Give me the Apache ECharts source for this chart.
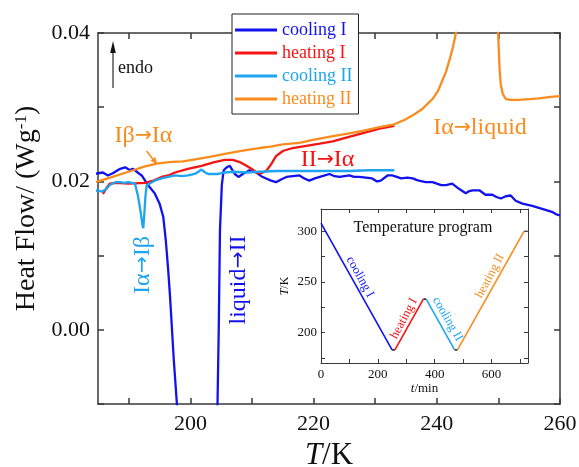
<!DOCTYPE html>
<html><head><meta charset="utf-8">
<script src="https://cdn.jsdelivr.net/npm/echarts@6/dist/echarts.min.js"></script>
<style>html,body{margin:0;padding:0;background:#fff}#c{width:579px;height:467px}</style>
</head><body><div id="c"></div>
<script>
// ---- main DSC curves: [T/K, heat flow W/g] ----
const coolingI = [[184.5,0.0210],[185.0,0.0211],[185.8,0.0212],[186.6,0.0208],[187.4,0.0211],[188.0,0.0214],[188.6,0.0217],[189.4,0.0219],[190.2,0.0215],[190.6,0.0217],[191.0,0.0215],[191.6,0.0211],[192.1,0.0208],[192.8,0.0199],[193.4,0.0192],[194.2,0.0184],[195.0,0.0170],[195.6,0.0152],[196.0,0.0121],[196.4,0.0080],[196.7,0.0044],[197.3,-0.0040],[197.8,-0.0099],[198.3,-0.016],[201.0,-0.05],[204.1,-0.025],[204.4,-0.010],[204.6,0.0],[204.8,0.0134],[205.1,0.0195],[205.4,0.0215],[205.9,0.0219],[206.4,0.0221],[207.2,0.0210],[207.8,0.0206],[208.5,0.0210],[209.6,0.0215],[210.7,0.0212],[211.5,0.0207],[212.3,0.0204],[213.1,0.0201],[213.9,0.0199],[214.8,0.0203],[215.6,0.0206],[216.6,0.0207],[217.7,0.0208],[218.5,0.0204],[219.3,0.0201],[220.2,0.0204],[221.0,0.0206],[221.8,0.0208],[222.6,0.0210],[223.4,0.0207],[224.2,0.0206],[225.0,0.0207],[225.8,0.0208],[226.6,0.0206],[227.4,0.0206],[228.5,0.0205],[229.5,0.0204],[230.3,0.0200],[230.9,0.0201],[232.0,0.0208],[232.8,0.0208],[233.5,0.0206],[234.2,0.0204],[235.2,0.0205],[236.1,0.0204],[236.7,0.0202],[237.1,0.0201],[238.2,0.0199],[239.3,0.0199],[240.0,0.0197],[240.7,0.0195],[241.5,0.0195],[242.5,0.0197],[243.6,0.0190],[244.7,0.0184],[245.3,0.0187],[245.8,0.0188],[246.9,0.0188],[247.9,0.0182],[249.0,0.0182],[249.7,0.0179],[250.4,0.0177],[251.2,0.0180],[252.0,0.0181],[252.8,0.0174],[253.9,0.0170],[255.5,0.0167],[257.1,0.0163],[258.7,0.0159],[259.3,0.0156],[260.0,0.0154]];
const heatingI = [[185.8,0.0183],[186.3,0.0190],[186.9,0.0197],[188.0,0.0198],[190.0,0.0197],[192.6,0.0198],[194.0,0.0201],[195.3,0.0206],[196.4,0.0208],[197.5,0.0212],[199.6,0.0217],[201.8,0.0221],[203.9,0.0226],[205.6,0.0229],[206.9,0.0229],[208.0,0.0226],[209.1,0.0221],[209.9,0.0217],[210.7,0.0212],[211.5,0.0211],[212.3,0.0214],[213.1,0.0223],[213.9,0.0234],[215.0,0.0241],[216.6,0.0245],[218.8,0.0248],[221.0,0.0251],[223.1,0.0254],[225.3,0.0259],[228.0,0.0265],[230.7,0.0271],[233.1,0.0275]];
const coolingII = [[184.5,0.0187],[185.0,0.0188],[185.6,0.0186],[186.4,0.0190],[186.9,0.0195],[187.8,0.0199],[188.6,0.0199],[189.3,0.0198],[189.9,0.0199],[190.5,0.0198],[191.0,0.0197],[191.5,0.0180],[191.9,0.0160],[192.2,0.0142],[192.35,0.0137],[192.55,0.0160],[192.7,0.0180],[192.9,0.0195],[193.4,0.0197],[194.2,0.0201],[195.3,0.0204],[196.4,0.0206],[197.5,0.0208],[198.6,0.0207],[199.6,0.0208],[200.7,0.0210],[201.3,0.0213],[201.8,0.0216],[202.4,0.0212],[202.9,0.0210],[204.5,0.0210],[205.6,0.0212],[207.0,0.0213],[209.0,0.0212],[211.2,0.0213],[214.0,0.0214],[217.7,0.0214],[221.0,0.0214],[225.8,0.0214],[229.0,0.0215],[233.1,0.0215]];
const heatingII = [[184.5,0.0199],[185.0,0.0200],[187.0,0.0205],[190.7,0.0215],[192.5,0.0220],[194.5,0.0224],[196.5,0.0226],[198.8,0.0227],[201.0,0.0230],[203.1,0.0233],[205.0,0.0236],[206.9,0.0239],[209.0,0.0242],[211.2,0.0245],[213.0,0.0247],[215.0,0.0250],[217.7,0.0252],[219.9,0.0256],[222.5,0.0260],[225.3,0.0264],[228.0,0.0268],[230.7,0.0273],[233.1,0.0277],[234.8,0.0283],[236.1,0.0289],[237.7,0.0298],[239.3,0.0311],[240.2,0.0322],[240.9,0.0336],[241.5,0.0348],[242.0,0.0362],[242.6,0.0380],[243.1,0.0400],[243.6,0.0425],[244.5,0.050],[246.0,0.070],[248.0,0.070],[249.6,0.050],[249.85,0.0420],[249.95,0.0400],[250.1,0.0370],[250.2,0.0350],[250.4,0.0330],[250.7,0.0318],[251.2,0.0311],[252.0,0.0310],[253.3,0.0310],[255.0,0.0311],[256.6,0.0312],[258.5,0.0314],[260.0,0.0315]];

// ---- tick values ----
const xTicks = [190,200,210,220,230,240,250,260];
const xLabels = [200,220,240,260];
const yTicks = [-0.01,0,0.01,0.02,0.03,0.04];
const yLabels = [0,0.02,0.04];

// ---- inset: temperature program [t/min, T/K] ----
const progCoolingI = [[0,308],[250,183]];
const progHold1 = [[250,183],[260,183]];
const progHeatingI = [[260,183],[360,233]];
const progHold2 = [[360,233],[370,233]];
const progCoolingII = [[370,233],[470,183]];
const progHold3 = [[470,183],[480,183]];
const progHeatingII = [[480,183],[714,300]];
const progHold4 = [[714,300],[726,300]];
const tTicks = [0,100,200,300,400,500,600,700];
const tLabels = [0,200,400,600];
const TTicks = [175,200,225,250,275,300];
const TLabels = [200,250,300];

const C_BLUE = '#1212ee', C_RED = '#f41414', C_LBLUE = '#1ea4f0', C_ORANGE = '#fa8c1e';
const FF = '"Liberation Serif", "DejaVu Serif", serif';
const FA = '"DejaVu Sans", sans-serif';
const AX = '#3a3a3a';

const chart = echarts.init(document.getElementById('c'), null, {renderer: 'canvas'});

function mainX(pos, show) {
  return {
    type: 'value', gridIndex: 0, min: 185, max: 260, position: pos,
    axisLine: {show: true, onZero: false, lineStyle: {color: AX, width: 1.5}},
    axisTick: {show: true, inside: true, length: 6, customValues: xTicks, lineStyle: {color: AX, width: 1.5}},
    axisLabel: show ? {show: true, customValues: xLabels, fontSize: 22, color: '#111', fontFamily: FF, margin: 9} : {show: false},
    splitLine: {show: false}
  };
}
function mainY(pos, show) {
  return {
    type: 'value', gridIndex: 0, min: -0.01, max: 0.04, position: pos,
    axisLine: {show: true, onZero: false, lineStyle: {color: AX, width: 1.5}},
    axisTick: {show: true, inside: true, length: 6, customValues: yTicks, lineStyle: {color: AX, width: 1.5}},
    axisLabel: show ? {show: true, customValues: yLabels, fontSize: 22, color: '#111', fontFamily: FF, margin: 8, formatter: v => Number(v).toFixed(2)} : {show: false},
    splitLine: {show: false}
  };
}
function insetX(pos, show) {
  return {
    type: 'value', gridIndex: 1, min: 0, max: 728, position: pos, z: 11,
    axisLine: {show: true, onZero: false, lineStyle: {color: AX, width: 1}},
    axisTick: {show: true, inside: true, length: 4, customValues: tTicks, lineStyle: {color: AX, width: 1}},
    axisLabel: show ? {show: true, customValues: tLabels, fontSize: 13, color: '#111', fontFamily: FF, margin: 5} : {show: false},
    splitLine: {show: false}
  };
}
function insetY(pos, show) {
  return {
    type: 'value', gridIndex: 1, min: 170, max: 322, position: pos, z: 11,
    axisLine: {show: true, onZero: false, lineStyle: {color: AX, width: 1}},
    axisTick: {show: true, inside: true, length: 4, customValues: TTicks, lineStyle: {color: AX, width: 1}},
    axisLabel: show ? {show: true, customValues: TLabels, fontSize: 13, color: '#111', fontFamily: FF, margin: 4} : {show: false},
    splitLine: {show: false}
  };
}

const xAxes = [mainX('bottom', true), mainX('top', false), insetX('bottom', true), insetX('top', false)];
xAxes[0].name = '{i|T}/K';
xAxes[0].nameLocation = 'middle';
xAxes[0].nameGap = 34;
xAxes[0].nameTextStyle = {fontSize: 31, fontFamily: FF, color: '#111', rich: {i: {fontSize: 31, fontFamily: FF, fontStyle: 'italic', color: '#111'}}};
xAxes[2].name = '{i|t}/min';
xAxes[2].nameLocation = 'middle';
xAxes[2].nameGap = 17;
xAxes[2].nameTextStyle = {fontSize: 13, fontFamily: FF, color: '#111', rich: {i: {fontSize: 13, fontFamily: FF, fontStyle: 'italic', color: '#111'}}};

const yAxes = [mainY('left', true), mainY('right', false), insetY('left', true), insetY('right', false)];
yAxes[0].name = '{a|Heat Flow/ (Wg}{s|-1}{a|)}';
yAxes[0].nameLocation = 'middle';
yAxes[0].nameGap = 52;
yAxes[0].nameTextStyle = {fontSize: 28, fontFamily: FF, color: '#111', padding: [0, 0, 0, 20],
  rich: {a: {fontSize: 28, fontFamily: FF, color: '#111'}, s: {fontSize: 17, fontFamily: FF, color: '#111', verticalAlign: 'top', lineHeight: 28}}};
yAxes[2].name = '{i|T}/K';
yAxes[2].nameLocation = 'middle';
yAxes[2].nameGap = 30;
yAxes[2].nameTextStyle = {fontSize: 12, fontFamily: FF, color: '#111', rich: {i: {fontSize: 12, fontFamily: FF, fontStyle: 'italic', color: '#111'}}};

function mainSeries(name, data, color) {
  return {name, type: 'line', xAxisIndex: 0, yAxisIndex: 0, data, showSymbol: false, symbol: 'none',
    clip: true, lineStyle: {color, width: 2.3}, itemStyle: {color}, z: 2, animation: false};
}
function progSeries(name, data, color, w) {
  return {name, type: 'line', xAxisIndex: 2, yAxisIndex: 2, data, showSymbol: false, symbol: 'none',
    clip: true, lineStyle: {color, width: w || 1.6}, itemStyle: {color}, z: 12, animation: false};
}

// annotation text; "→" set in DejaVu Sans so the arrow sits at mid-height
function label(parts, x, y, color, size, rot) {
  const text = parts.map((p, i) => (i % 2 ? '{r|→}' : '{a|' + p + '}')).join('');
  return {type: 'text', x, y, rotation: rot || 0, z: 30,
    style: {text, fill: color, font: size + 'px ' + FF, align: 'center', verticalAlign: 'middle',
      rich: {a: {fontFamily: FF, fontSize: size, fill: color}, r: {fontFamily: FA, fontSize: size * 0.85, fill: color}}}};
}
function plain(text, x, y, color, size, rot) {
  return {type: 'text', x, y, rotation: rot || 0, z: 30,
    style: {text, fill: color, font: size + 'px ' + FF, align: 'center', verticalAlign: 'middle'}};
}

const D = Math.PI / 180;
const option = {
  animation: false,
  backgroundColor: '#fff',
  textStyle: {fontFamily: FF},
  grid: [
    {left: 98, top: 33, width: 462, height: 371, show: false, outerBoundsMode: 'none', containLabel: false},
    {left: 321, top: 209, width: 207, height: 154, show: true, backgroundColor: '#fff', borderWidth: 0, z: 10, outerBoundsMode: 'none', containLabel: false}
  ],
  legend: {
    orient: 'vertical', left: 232, top: 14, padding: [7, 6, 6, 3], itemGap: 5,
    itemWidth: 42, itemHeight: 3, icon: 'rect', itemTextGap: 6,
    backgroundColor: '#fff', borderColor: '#222', borderWidth: 1, z: 20,
    textStyle: {fontSize: 18, fontFamily: FF},
    data: [
      {name: 'cooling I', textStyle: {color: C_BLUE}},
      {name: 'heating I', textStyle: {color: C_RED}},
      {name: 'cooling II', textStyle: {color: C_LBLUE}},
      {name: 'heating II', textStyle: {color: C_ORANGE}}
    ]
  },
  xAxis: xAxes,
  yAxis: yAxes,
  series: [
    mainSeries('cooling I', coolingI, C_BLUE),
    mainSeries('heating I', heatingI, C_RED),
    mainSeries('cooling II', coolingII, C_LBLUE),
    mainSeries('heating II', heatingII, C_ORANGE),
    progSeries('p-hold1', progHold1, '#333'),
    progSeries('p-hold2', progHold2, '#333'),
    progSeries('p-hold3', progHold3, '#333'),
    progSeries('p-hold4', progHold4, '#555'),
    progSeries('p-coolingI', progCoolingI, C_BLUE),
    progSeries('p-heatingI', progHeatingI, C_RED),
    progSeries('p-coolingII', progCoolingII, C_LBLUE),
    progSeries('p-heatingII', progHeatingII, C_ORANGE)
  ],
  graphic: [
    {type: 'line', z: 30, shape: {x1: 113, y1: 88, x2: 113, y2: 50}, style: {stroke: '#555', lineWidth: 1.5}},
    {type: 'polygon', z: 30, shape: {points: [[110.2, 53], [115.8, 53], [113, 41]]}, style: {fill: '#111'}},
    {type: 'text', z: 30, x: 118, y: 68, style: {text: 'endo', fill: '#111', font: '18px ' + FF, verticalAlign: 'middle'}},
    label(['Iβ', '', 'Iα'], 143.5, 136, C_ORANGE, 24),
    {type: 'line', z: 30, shape: {x1: 146.5, y1: 151, x2: 154, y2: 160.5}, style: {stroke: C_ORANGE, lineWidth: 1.5}},
    {type: 'polygon', z: 30, shape: {points: [[150.5, 160.7], [155.2, 156.9], [157.3, 164.3]]}, style: {fill: C_ORANGE}},
    label(['II', '', 'Iα'], 327.5, 160, C_RED, 24),
    label(['Iα', '', 'liquid'], 480, 128, C_ORANGE, 24),
    label(['Iα', '', 'Iβ'], 142.5, 265, C_LBLUE, 24, 90 * D),
    label(['liquid', '', 'II'], 239, 280, C_BLUE, 24, 90 * D),
    plain('Temperature program', 423, 228, '#111', 16),
    plain('cooling I', 360, 277, C_BLUE, 12.5, -61 * D),
    plain('heating I', 404, 318.5, C_RED, 12.5, 62 * D),
    plain('cooling II', 447.5, 319, C_LBLUE, 12.5, -60 * D),
    plain('heating II', 490, 276, C_ORANGE, 12.5, 62 * D)
  ]
};
chart.setOption(option);
</script>
</body></html>
